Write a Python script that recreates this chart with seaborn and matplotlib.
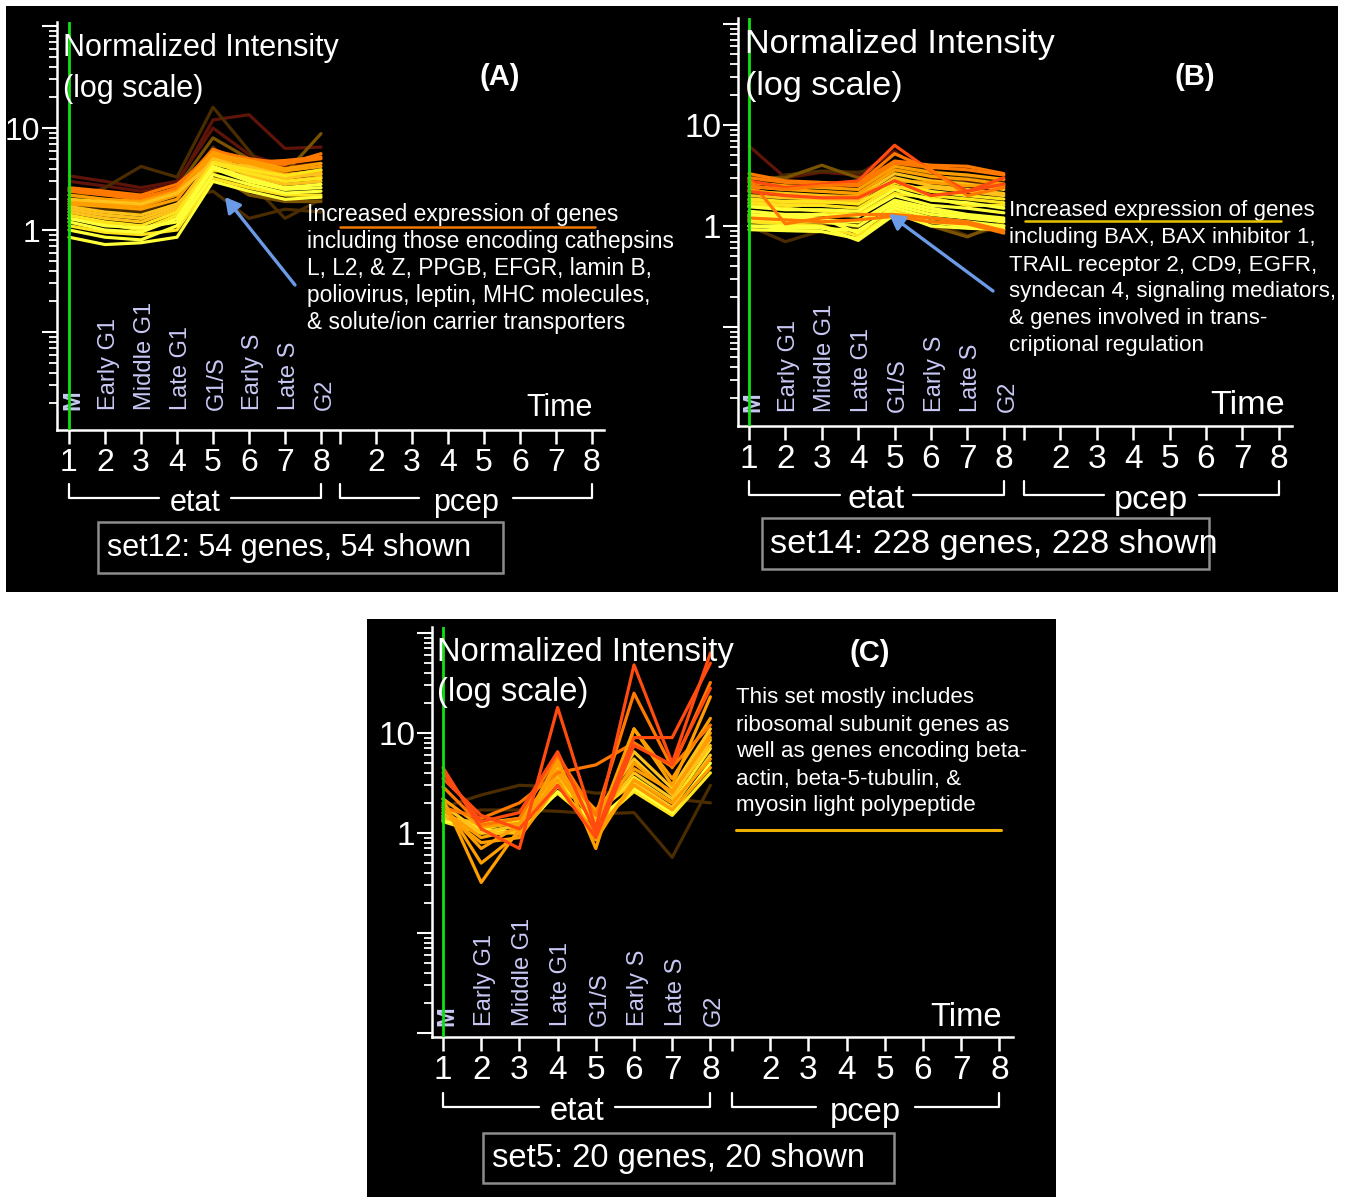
import numpy as np
import pandas as pd
import matplotlib
matplotlib.use("Agg")
import matplotlib.pyplot as plt
import matplotlib.transforms as mtrans
from matplotlib.patches import Rectangle, FancyArrowPatch
from matplotlib.lines import Line2D
from matplotlib.ticker import LogLocator, FuncFormatter, FixedLocator
import seaborn as sns

# ---------------------------------------------------------------- data
PHASES = ["M", "Early G1", "Middle G1", "Late G1", "G1/S", "Early S", "Late S", "G2"]
TIME_POINTS = [1, 2, 3, 4, 5, 6, 7, 8]
ETAT_LABELS = ["1", "2", "3", "4", "5", "6", "7", "8"]
PCEP_LABELS = ["", "2", "3", "4", "5", "6", "7", "8"]

# set12 : normalized intensity per gene across the etat time course
SET12_VALUES = [
    [3.0, 2.7, 2.4, 2.8, 12.0, 13.5, 6.3, 6.5],
    [3.4, 3.0, 2.6, 3.0, 10.0, 5.5, 4.2, 4.5],
    [2.0, 2.6, 4.2, 3.3, 16.0, 6.0, 2.3, 2.0],
    [1.6, 1.5, 1.6, 2.0, 2.4, 1.3, 1.6, 1.5],
    [1.8, 1.6, 1.5, 2.0, 6.5, 3.0, 1.3, 2.0],
    [2.2, 2.0, 1.9, 2.6, 8.0, 5.0, 3.6, 8.8],
    [1.5, 1.4, 1.3, 1.5, 3.6, 2.2, 1.9, 1.9],
    [2.4, 2.2, 2.0, 2.6, 6.0, 5.0, 4.5, 5.0],
    [2.6, 2.4, 2.2, 2.8, 5.4, 4.6, 4.8, 5.2],
    [2.5, 2.3, 2.1, 2.5, 6.2, 4.6, 4.4, 5.6],
    [1.8, 1.7, 1.6, 2.0, 5.5, 4.8, 4.0, 4.5],
    [2.2, 2.0, 1.9, 2.4, 5.8, 4.5, 3.8, 4.2],
    [1.9, 1.8, 1.7, 2.2, 5.2, 4.4, 3.5, 3.8],
    [2.0, 1.9, 1.8, 2.3, 4.6, 4.2, 3.4, 3.5],
    [1.7, 1.5, 1.4, 1.8, 3.8, 3.8, 3.0, 3.3],
    [1.6, 1.4, 1.3, 1.7, 5.0, 4.0, 3.2, 3.6],
    [1.5, 1.3, 1.2, 1.6, 4.8, 3.4, 2.8, 3.0],
    [1.3, 1.15, 1.0, 1.4, 4.6, 3.9, 3.4, 3.9],
    [1.4, 1.2, 1.1, 1.5, 4.5, 3.6, 3.0, 3.2],
    [1.1, 0.95, 0.9, 1.0, 3.2, 2.6, 2.2, 2.2],
    [1.3, 1.1, 1.05, 1.2, 4.0, 3.0, 2.5, 2.6],
    [1.2, 1.0, 0.95, 1.3, 4.2, 3.2, 2.6, 2.8],
    [1.0, 0.85, 0.8, 1.1, 3.5, 2.8, 2.3, 2.4],
    [0.85, 0.72, 0.75, 0.85, 3.0, 2.4, 2.0, 2.1],
]
SET12_COLORS = ["DR", "DR", "DB", "DB", "DB", "BR", "BR", "O2", "O2", "O2", "O", "O",
                "O", "G", "G", "G", "G", "Y2", "Y2", "Y2", "Y", "Y", "Y", "Y"]

# set14
SET14_VALUES = [
    [6.2, 3.0, 3.4, 3.2, 5.5, 3.0, 2.8, 2.6],
    [2.5, 3.2, 3.5, 3.4, 4.0, 3.5, 3.1, 2.8],
    [3.0, 3.0, 4.0, 3.0, 3.6, 3.3, 2.6, 2.5],
    [1.0, 0.7, 0.9, 0.95, 1.4, 1.1, 0.8, 1.0],
    [1.2, 1.1, 1.05, 1.1, 1.5, 1.0, 0.78, 1.1],
    [3.3, 2.8, 2.7, 2.6, 4.4, 4.0, 3.9, 3.3],
    [3.0, 2.7, 2.6, 2.5, 4.2, 3.8, 3.6, 3.2],
    [2.7, 2.5, 2.4, 2.3, 3.9, 3.4, 3.2, 2.9],
    [2.45, 2.3, 2.2, 2.1, 3.6, 3.1, 2.9, 2.6],
    [2.2, 2.1, 2.0, 1.95, 3.3, 2.8, 2.6, 2.3],
    [2.3, 2.0, 1.9, 2.0, 2.8, 2.7, 2.5, 2.5],
    [2.0, 1.9, 1.85, 1.8, 3.0, 2.5, 2.3, 2.1],
    [1.8, 1.7, 1.7, 1.75, 2.4, 2.4, 2.2, 2.0],
    [1.85, 1.75, 1.75, 1.65, 2.7, 2.2, 2.0, 1.85],
    [1.7, 1.6, 1.6, 1.5, 2.5, 2.0, 1.85, 1.7],
    [1.6, 1.5, 1.4, 1.3, 2.1, 1.9, 1.6, 1.6],
    [1.55, 1.45, 1.45, 1.4, 2.3, 1.8, 1.7, 1.5],
    [1.4, 1.3, 1.3, 1.25, 2.0, 1.6, 1.5, 1.35],
    [1.3, 1.25, 1.2, 0.85, 1.6, 1.3, 1.2, 1.1],
    [1.25, 1.2, 1.15, 1.1, 1.8, 1.5, 1.3, 1.2],
    [1.15, 1.1, 1.1, 1.0, 1.7, 1.4, 1.25, 1.15],
    [1.1, 1.05, 1.0, 0.8, 1.4, 1.1, 1.0, 0.95],
    [1.0, 1.0, 0.98, 0.72, 1.3, 1.1, 1.0, 1.0],
    [1.0, 0.95, 0.95, 0.9, 1.5, 1.2, 1.1, 1.0],
    [0.92, 0.9, 0.88, 0.75, 1.35, 1.0, 0.95, 0.92],
    [2.8, 2.4, 2.6, 2.8, 6.3, 3.5, 2.2, 2.6],
    [2.5, 2.3, 2.5, 2.6, 5.2, 3.6, 2.0, 2.4],
    [2.9, 1.05, 1.2, 1.3, 1.3, 1.2, 1.1, 0.9],
    [1.2, 1.15, 1.1, 1.15, 1.25, 1.1, 1.05, 0.85],
    [2.2, 2.0, 1.9, 1.9, 2.8, 2.0, 2.2, 3.0],
]
SET14_COLORS = ["DR", "DB", "BR", "DB", "BR", "O2", "O2", "O", "O", "G", "O", "G",
                "G", "Y2", "Y2", "Y2", "Y", "Y", "Y", "Y", "Y", "Y2", "Y", "Y", "Y",
                "R", "O2", "O2", "O2", "R"]

# set5
SET5_VALUES = [
    [1.8, 2.4, 3.0, 2.9, 2.5, 2.6, 2.2, 2.0],
    [1.5, 1.7, 1.7, 1.65, 1.55, 1.6, 0.57, 3.0],
    [1.3, 1.0, 1.2, 2.5, 1.2, 2.6, 1.5, 4.0],
    [1.35, 1.1, 1.0, 2.6, 1.3, 2.8, 1.6, 5.0],
    [1.4, 1.2, 1.3, 2.9, 1.6, 3.2, 1.8, 6.0],
    [1.5, 1.1, 1.3, 3.2, 1.5, 3.6, 2.0, 7.0],
    [1.45, 1.25, 1.4, 3.8, 1.6, 5.5, 2.4, 7.5],
    [1.6, 0.8, 0.9, 3.0, 1.0, 3.0, 1.7, 4.5],
    [1.6, 1.0, 1.2, 3.6, 1.4, 4.0, 2.2, 8.5],
    [1.7, 0.9, 1.1, 4.0, 1.2, 5.0, 2.5, 10.0],
    [1.9, 1.0, 1.0, 4.5, 1.3, 6.5, 2.8, 11.0],
    [2.2, 1.15, 1.25, 4.2, 1.7, 4.4, 2.6, 9.0],
    [1.8, 0.7, 1.2, 3.4, 0.85, 3.4, 2.0, 5.5],
    [2.0, 0.5, 1.0, 5.5, 0.7, 11.0, 3.5, 14.0],
    [1.8, 1.4, 2.0, 4.0, 4.8, 8.0, 4.6, 12.0],
    [2.2, 0.32, 1.1, 5.0, 1.1, 11.0, 3.0, 23.0],
    [2.9, 1.2, 1.4, 6.0, 1.5, 25.0, 4.5, 32.0],
    [3.5, 1.5, 1.1, 3.0, 0.9, 7.5, 4.8, 28.0],
    [4.0, 1.3, 1.6, 6.5, 1.0, 9.0, 9.0, 50.0],
    [4.5, 1.1, 0.7, 18.0, 1.1, 48.0, 5.0, 63.0],
]
SET5_COLORS = ["DB", "DB", "Y2", "Y", "G", "Y2", "G", "O", "G", "O", "G", "O",
               "O", "O", "O2", "O", "O2", "R", "R", "R"]

PALETTE = {"Y": "#ffff38", "Y2": "#ffe41c", "G": "#ffc21a", "O": "#ff9e00",
           "O2": "#ff7800", "R": "#ff4a10", "BR": "#7a5200", "DB": "#4a2c00",
           "DR": "#5e1408"}

# ---------------------------------------------------------------- figure
W, H = 1346, 1197
sns.set_theme(style="ticks")
ARIAL = ["Liberation Sans", "DejaVu Sans"]
plt.rcParams["font.family"] = ARIAL

fig = plt.figure(figsize=(W / 100, H / 100), dpi=100, facecolor="white")


def fx(x):
    return x / W


def fy(y):
    return 1 - y / H


# black panel backgrounds
for x0, y0, x1, y1 in [(6, 6, 1338, 592), (367, 619, 1056, 1197)]:
    fig.add_artist(Rectangle((fx(x0), fy(y1)), (x1 - x0) / W, (y1 - y0) / H,
                             transform=fig.transFigure, facecolor="black",
                             edgecolor="none", zorder=0))

PANELS = {
    "A": dict(left=57, top=22, bottom=430, x1=69, dx=36.0, p1=340, right=604,
              y1=230, y10=128, phase_y=410, br_y=498, br_top=484, lab_y=503,
              time=(593, 408), head=(63, 48, 89), tag=("(A)", 500, 77),
              box=(98, 522, 503, 573), box_txt=(107, 548), fs=22, tick_fs=23,
              label="set12: 54 genes, 54 shown",
              values=SET12_VALUES, colors=SET12_COLORS),
    "B": dict(left=738, top=18, bottom=426, x1=749, dx=36.4, p1=1024, right=1292,
              y1=226, y10=125, phase_y=412, br_y=495, br_top=481, lab_y=500,
              time=(1285, 405), head=(745, 45, 86), tag=("(B)", 1195, 77),
              box=(762, 518, 1209, 569), box_txt=(770, 544), fs=24.7, tick_fs=24,
              label="set14: 228 genes, 228 shown",
              values=SET14_VALUES, colors=SET14_COLORS),
    "C": dict(left=432, top=627, bottom=1037, x1=443, dx=38.2, p1=732, right=1013,
              y1=833, y10=733, phase_y=1026, br_y=1107, br_top=1093, lab_y=1112,
              time=(1002, 1017), head=(437, 652, 693), tag=("(C)", 870, 653),
              box=(483, 1133, 894, 1183), box_txt=(492, 1159), fs=23.6, tick_fs=24,
              label="set5: 20 genes, 20 shown",
              values=SET5_VALUES, colors=SET5_COLORS),
}


def only_1_10(v, pos):
    if np.isclose(v, 10):
        return "10"
    if np.isclose(v, 1):
        return "1"
    return ""


def draw_panel(g):
    ax = fig.add_axes([fx(g["left"]), fy(g["bottom"]),
                       (g["right"] - g["left"]) / W, (g["bottom"] - g["top"]) / H])
    ax.set_facecolor("none")
    dx = g["dx"]
    fs = g["fs"]
    pcep0 = 1 + (g["p1"] - g["x1"]) / dx
    dec = g["y1"] - g["y10"]

    # gene profiles
    rows = []
    for gi, vals in enumerate(g["values"]):
        for t, v in zip(TIME_POINTS, vals):
            rows.append({"gene": f"g{gi:03d}", "time": t, "value": v})
    df = pd.DataFrame(rows)
    order = [f"g{gi:03d}" for gi in range(len(g["values"]))]
    pal = {f"g{gi:03d}": PALETTE[c] for gi, c in enumerate(g["colors"])}
    sns.lineplot(data=df, x="time", y="value", hue="gene", hue_order=order,
                 palette=pal, estimator=None, sort=False, legend=False,
                 linewidth=2.3, ax=ax, zorder=3)

    ax.set_yscale("log")
    ax.set_xlim(1 + (g["left"] - g["x1"]) / dx, 1 + (g["right"] - g["x1"]) / dx)
    ax.set_ylim(10 ** ((g["y1"] - g["bottom"]) / dec), 10 ** ((g["y1"] - g["top"]) / dec))
    ax.set_xlabel("")
    ax.set_ylabel("")

    ax.axvline(1, color="#10e010", lw=2.0, zorder=5)

    for s in ("top", "right"):
        ax.spines[s].set_visible(False)
    for s in ("left", "bottom"):
        ax.spines[s].set_color("white")
        ax.spines[s].set_linewidth(1.8)

    ax.yaxis.set_major_locator(LogLocator(base=10, numticks=12))
    ax.yaxis.set_minor_locator(LogLocator(base=10, subs=np.arange(2, 10), numticks=12))
    ax.yaxis.set_major_formatter(FuncFormatter(only_1_10))
    ax.yaxis.set_minor_formatter(FuncFormatter(lambda v, p: ""))
    ax.tick_params(axis="y", which="major", direction="out", length=11, width=1.5,
                   color="white", labelcolor="white", labelsize=g["tick_fs"], pad=1)
    ax.tick_params(axis="y", which="minor", direction="out", length=6, width=1.3,
                   color="white")

    xt = [t for t in TIME_POINTS] + [pcep0 + (t - 1) for t in TIME_POINTS]
    ax.xaxis.set_major_locator(FixedLocator(xt))
    ax.set_xticklabels(ETAT_LABELS + PCEP_LABELS)
    ax.xaxis.set_minor_locator(FixedLocator([]))
    ax.tick_params(axis="x", which="major", direction="out", length=10, width=1.8,
                   color="white", labelcolor="white", labelsize=g["tick_fs"], pad=3)

    blend = mtrans.blended_transform_factory(ax.transData, fig.transFigure)

    # cell-cycle phase names
    for i, name in enumerate(PHASES):
        ax.text(TIME_POINTS[i] + 0.1, fy(g["phase_y"]), name, transform=blend,
                rotation=90, ha="center", va="bottom", color="#c8c8f4",
                fontsize=17, fontweight="bold" if name == "M" else "normal",
                clip_on=False)

    # condition brackets
    for lo, hi, name, gap in [(1, 8, "etat", 1.0), (pcep0, pcep0 + 7, "pcep", 1.3)]:
        mid = (lo + hi) / 2
        yb, yt = fy(g["br_y"]), fy(g["br_top"])
        ax.add_line(Line2D([lo, lo, mid - gap], [yt, yb, yb], transform=blend,
                           color="white", lw=1.6, clip_on=False))
        ax.add_line(Line2D([mid + gap, hi, hi], [yb, yb, yt], transform=blend,
                           color="white", lw=1.6, clip_on=False))
        ax.text(mid, fy(g["lab_y"]), name, transform=blend, ha="center",
                va="center", color="white", fontsize=fs)

    fig.text(fx(g["time"][0]), fy(g["time"][1]), "Time", ha="right", va="center",
             color="white", fontsize=fs)
    hx, h1, h2 = g["head"]
    fig.text(fx(hx), fy(h1), "Normalized Intensity", ha="left", va="center",
             color="white", fontsize=fs)
    fig.text(fx(hx), fy(h2), "(log scale)", ha="left", va="center",
             color="white", fontsize=fs)
    tag, tx, ty = g["tag"]
    fig.text(fx(tx), fy(ty), tag, ha="center", va="center", color="white",
             fontsize=21, fontweight="bold")

    bx0, by0, bx1, by1 = g["box"]
    fig.add_artist(Rectangle((fx(bx0), fy(by1)), (bx1 - bx0) / W, (by1 - by0) / H,
                             transform=fig.transFigure, facecolor="none",
                             edgecolor="#8c8c8c", lw=1.8, zorder=4))
    fig.text(fx(g["box_txt"][0]), fy(g["box_txt"][1]), g["label"], ha="left",
             va="center", color="white", fontsize=fs, zorder=5)
    return ax


axes = {k: draw_panel(g) for k, g in PANELS.items()}

# ---------------------------------------------------------------- notes
NOTE_A = ["Increased expression of genes",
          "including those encoding cathepsins",
          "L, L2, & Z, PPGB, EFGR, lamin B,",
          "poliovirus, leptin, MHC molecules,",
          "& solute/ion carrier transporters"]
NOTE_B = ["Increased expression of genes",
          "including BAX, BAX inhibitor 1,",
          "TRAIL receptor 2, CD9, EGFR,",
          "syndecan 4, signaling mediators,",
          "& genes involved in trans-",
          "criptional regulation"]
NOTE_C = ["This set mostly includes",
          "ribosomal subunit genes as",
          "well as genes encoding beta-",
          "actin, beta-5-tubulin, &",
          "myosin light polypeptide"]

for lines, x0, y0, step, nfs in [(NOTE_A, 307, 214, 27.2, 16.35),
                                 (NOTE_B, 1009, 211, 27.0, 16.1),
                                 (NOTE_C, 736, 698, 27.0, 16.1)]:
    for i, s in enumerate(lines):
        fig.text(fx(x0), fy(y0 + i * step), s, ha="left", va="center",
                 color="white", fontsize=nfs)

for (xa, xb, yy, col, lw) in [(340, 595, 227, "#f07800", 1.8),
                              (1025, 1281, 221, "#e8c400", 1.8),
                              (736, 1001, 830, "#f0b000", 2.2)]:
    fig.add_artist(Line2D([fx(xa), fx(xb)], [fy(yy), fy(yy)],
                          transform=fig.transFigure, color=col, lw=lw, zorder=6))

for (tx, ty, hx, hy) in [(295, 285, 225, 197), (993, 291, 889, 214)]:
    fig.add_artist(FancyArrowPatch((fx(tx), fy(ty)), (fx(hx), fy(hy)),
                                   transform=fig.transFigure,
                                   arrowstyle="-|>,head_length=9,head_width=5",
                                   color="#6b9be6", lw=2.4, zorder=7,
                                   shrinkA=0, shrinkB=0))

fig.savefig("out.png", dpi=100, facecolor="white")
